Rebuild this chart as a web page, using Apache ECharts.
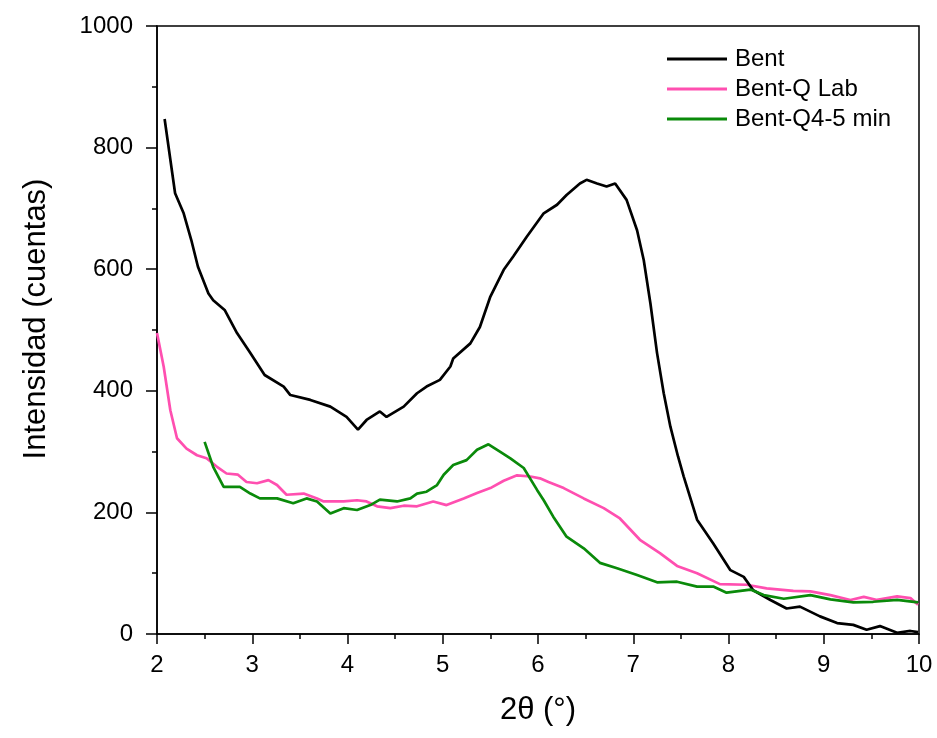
<!DOCTYPE html>
<html>
<head>
<meta charset="utf-8">
<script src="https://cdn.jsdelivr.net/npm/echarts@6/dist/echarts.min.js"></script>
<style>html,body{margin:0;padding:0;background:#fff}#c{width:937px;height:738px}</style>
</head>
<body>
<div id="c"></div>
<script>
const bentX = [2.08,2.19,2.28,2.36,2.43,2.54,2.59,2.71,2.84,2.98,3.13,3.33,3.40,3.61,3.82,3.99,4.11,4.20,4.34,4.41,4.59,4.73,4.83,4.97,5.08,5.11,5.29,5.39,5.50,5.64,5.74,5.88,6.06,6.20,6.30,6.44,6.51,6.62,6.72,6.81,6.93,7.04,7.11,7.18,7.25,7.32,7.39,7.47,7.53,7.67,7.84,8.02,8.16,8.26,8.44,8.61,8.75,8.96,9.14,9.31,9.45,9.59,9.77,9.91,9.99];
const bentY = [847,725,692,648,604,560,549,533,495,462,426,407,393,385,374,357,336,352,366,357,374,396,407,418,440,453,478,505,555,599,621,653,692,706,722,741,747,741,736,741,714,664,615,544,462,396,341,292,259,188,149,105,94,72,56,42,45,29,18,15,7,13,2,5,3];
const labX = [2.0,2.07,2.14,2.21,2.31,2.42,2.52,2.63,2.73,2.85,2.94,3.05,3.17,3.26,3.36,3.54,3.68,3.75,3.96,4.10,4.20,4.31,4.45,4.59,4.73,4.90,5.04,5.22,5.36,5.50,5.64,5.78,5.92,6.02,6.11,6.27,6.48,6.69,6.86,7.07,7.28,7.46,7.67,7.91,8.19,8.40,8.68,8.86,9.07,9.28,9.42,9.56,9.77,9.91,9.99];
const labY = [495,440,368,322,305,294,289,275,264,262,250,248,253,245,229,231,223,218,218,220,218,210,207,211,210,218,212,223,232,240,252,261,259,256,250,240,223,207,190,155,133,112,100,82,81,75,71,70,64,56,61,56,62,59,48];
const q45X = [2.50,2.59,2.70,2.87,2.98,3.08,3.26,3.43,3.57,3.68,3.82,3.96,4.10,4.24,4.34,4.52,4.66,4.73,4.83,4.94,5.01,5.11,5.25,5.36,5.48,5.60,5.71,5.85,5.99,6.06,6.16,6.30,6.48,6.65,6.83,7.04,7.25,7.46,7.67,7.84,7.98,8.23,8.37,8.58,8.86,9.07,9.31,9.52,9.77,9.99];
const q45Y = [316,275,242,242,231,223,223,215,223,218,198,207,204,212,221,218,223,231,234,245,262,278,286,303,312,300,289,273,237,220,193,160,141,117,108,97,85,86,78,78,68,73,64,58,64,57,52,53,56,52];
const seriesNames = ['Bent','Bent-Q Lab','Bent-Q4-5 min'];
const seriesColors = ['#000000','#ff4fb0','#0a8a0a'];
const xTicks = {min:2,max:10,interval:1};
const yTicks = {min:0,max:1000,interval:200};

const zip = (xs, ys) => xs.map((x, i) => [x, ys[i]]);
const font = 'Liberation Sans, Arial, sans-serif';
const chart = echarts.init(document.getElementById('c'));
chart.setOption({
  animation:false,
  backgroundColor:'#fff',
  grid:{left:157,right:18,top:26,bottom:104,show:true,borderColor:'#000',borderWidth:1.5,containLabel:false},
  legend:{
    orient:'vertical',left:662,top:42,itemWidth:60,itemHeight:3,itemGap:6,icon:'rect',
    textStyle:{fontFamily:font,fontSize:24,lineHeight:24,color:'#000',padding:[0,0,0,3]},
    data:seriesNames
  },
  xAxis:{
    type:'value',min:xTicks.min,max:xTicks.max,interval:xTicks.interval,
    name:'2θ (°)',nameLocation:'middle',nameGap:61,
    nameTextStyle:{fontFamily:font,fontSize:31,color:'#000'},
    axisLine:{onZero:false,lineStyle:{color:'#000',width:1.5}},
    axisTick:{inside:false,length:10,lineStyle:{color:'#000',width:1.5}},
    minorTick:{show:true,splitNumber:2,length:5,lineStyle:{color:'#000',width:1.5}},
    axisLabel:{fontFamily:font,fontSize:24,color:'#000',margin:19,formatter:v=>String(v)},
    splitLine:{show:false}
  },
  yAxis:{
    type:'value',min:yTicks.min,max:yTicks.max,interval:yTicks.interval,
    name:'Intensidad (cuentas)',nameLocation:'middle',nameGap:105,nameRotate:90,
    nameTextStyle:{fontFamily:font,fontSize:31,color:'#000',padding:[0,0,0,22]},
    axisLine:{show:true,lineStyle:{color:'#000',width:1.5}},
    axisTick:{show:true,inside:false,length:11,lineStyle:{color:'#000',width:1.5}},
    minorTick:{show:true,splitNumber:2,length:5,lineStyle:{color:'#000',width:1.5}},
    axisLabel:{fontFamily:font,fontSize:24,color:'#000',margin:24,formatter:v=>String(v)},
    splitLine:{show:false}
  },
  series:[
    {name:seriesNames[0],type:'line',data:zip(bentX,bentY),showSymbol:false,lineStyle:{color:seriesColors[0],width:2.7},itemStyle:{color:seriesColors[0]},z:3},
    {name:seriesNames[1],type:'line',data:zip(labX,labY),showSymbol:false,lineStyle:{color:seriesColors[1],width:2.7},itemStyle:{color:seriesColors[1]},z:2},
    {name:seriesNames[2],type:'line',data:zip(q45X,q45Y),showSymbol:false,lineStyle:{color:seriesColors[2],width:2.7},itemStyle:{color:seriesColors[2]},z:4}
  ]
});
</script>
</body>
</html>
